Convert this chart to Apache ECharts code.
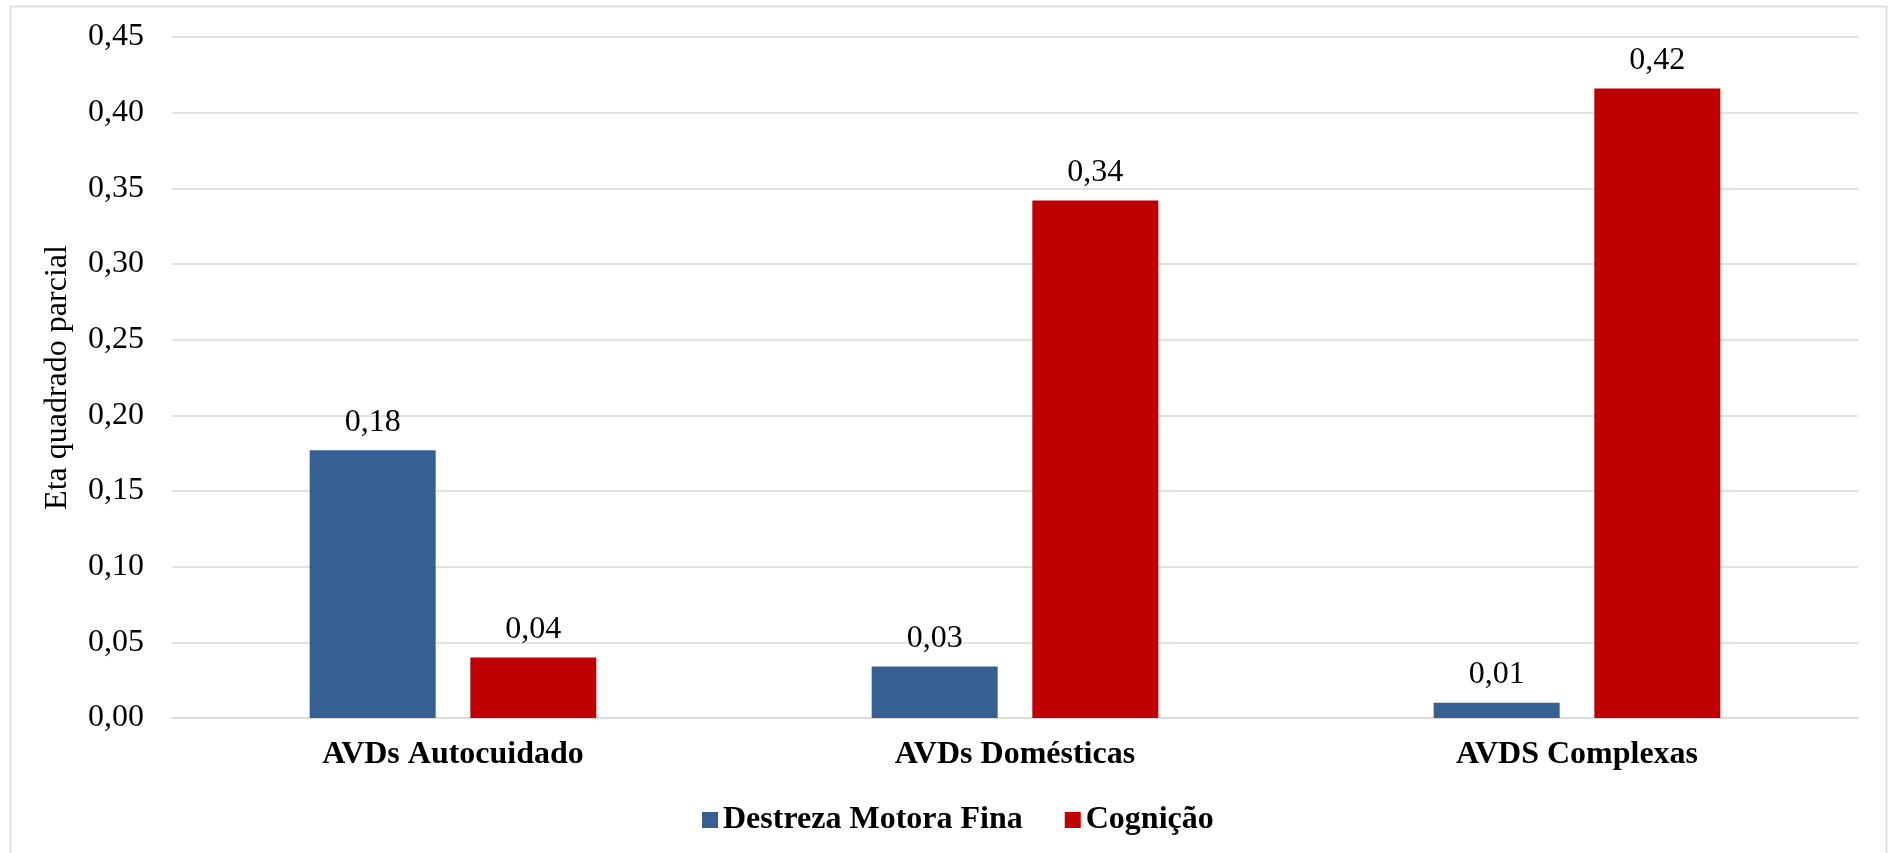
<!DOCTYPE html>
<html>
<head>
<meta charset="utf-8">
<title>Eta quadrado parcial</title>
<script src="https://cdn.jsdelivr.net/npm/echarts@6/dist/echarts.min.js"></script>
<style>
  html, body { margin: 0; padding: 0; background: #ffffff; }
  #chart { width: 1890px; height: 853px; }
</style>
</head>
<body>
<div id="chart"></div>
<script>
// Categories (activities of daily living) and partial eta squared per predictor
const categories = ['AVDs Autocuidado', 'AVDs Domésticas', 'AVDS Complexas'];
const destrezaMotoraFina = [0.177, 0.034, 0.010];
const cognicao = [0.040, 0.342, 0.416];
const seriesNames = ['Destreza Motora Fina', 'Cognição'];
const yTicks = { min: 0, max: 0.45, interval: 0.05 };

const FONT = "'Liberation Serif', 'Times New Roman', serif";
const fmt = v => v.toFixed(2).replace('.', ',');

const chart = echarts.init(document.getElementById('chart'), null, { renderer: 'canvas' });

const labelStyle = {
  show: true,
  position: 'top',
  distance: 12,
  color: '#000',
  fontFamily: FONT,
  fontSize: 32,
  formatter: p => fmt(p.value)
};

chart.setOption({
  backgroundColor: '#ffffff',
  animation: false,
  textStyle: { fontFamily: FONT },
  graphic: [{
    type: 'rect',
    shape: { x: 10.5, y: 6.5, width: 1876, height: 860 },
    style: { fill: 'none', stroke: '#d9d9d9', lineWidth: 1.5 },
    silent: true
  }],
  grid: { left: 172, right: 32, top: 37, bottom: 135, containLabel: false },
  legend: {
    data: seriesNames,
    left: 697,
    top: 799,
    itemWidth: 16,
    itemHeight: 16,
    itemGap: 42,
    icon: 'rect',
    textStyle: { fontFamily: FONT, fontSize: 32, fontWeight: 'bold', color: '#000' }
  },
  xAxis: {
    type: 'category',
    data: categories,
    axisTick: { show: false },
    axisLine: { show: true, lineStyle: { color: '#d9d9d9', width: 1.5 } },
    axisLabel: {
      margin: 21,
      color: '#000',
      fontFamily: FONT,
      fontSize: 32,
      fontWeight: 'bold'
    }
  },
  yAxis: {
    type: 'value',
    min: yTicks.min,
    max: yTicks.max,
    interval: yTicks.interval,
    name: 'Eta quadrado parcial',
    nameLocation: 'middle',
    nameGap: 98,
    nameTextStyle: { fontFamily: FONT, fontSize: 32, color: '#000' },
    axisLine: { show: false },
    axisTick: { show: false },
    axisLabel: {
      margin: 28,
      color: '#000',
      fontFamily: FONT,
      fontSize: 32,
      formatter: v => fmt(v)
    },
    splitLine: { lineStyle: { color: '#d9d9d9', width: 1.5 } }
  },
  series: [
    {
      name: seriesNames[0],
      type: 'bar',
      data: destrezaMotoraFina,
      barWidth: 126,
      barGap: '27.5%',
      itemStyle: { color: '#376092' },
      label: labelStyle
    },
    {
      name: seriesNames[1],
      type: 'bar',
      data: cognicao,
      barWidth: 126,
      barGap: '27.5%',
      itemStyle: { color: '#c00000' },
      label: labelStyle
    }
  ]
});
</script>
</body>
</html>
